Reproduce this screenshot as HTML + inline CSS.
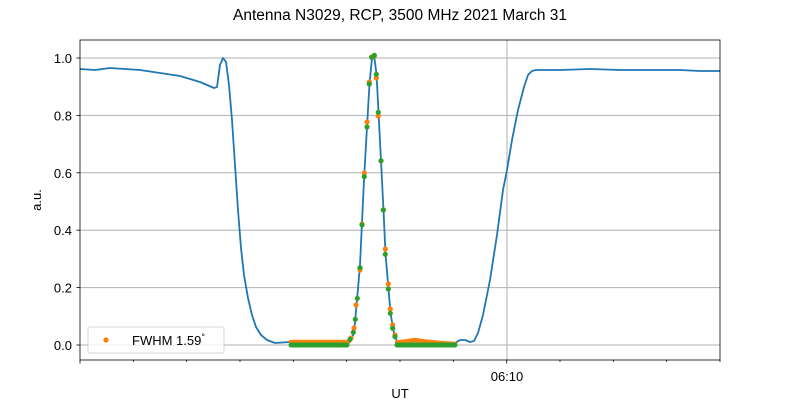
<!DOCTYPE html>
<html><head><meta charset="utf-8"><style>
body{margin:0;background:#fff}
svg text{font-family:"Liberation Sans","DejaVu Sans",sans-serif;fill:#000}
</style></head><body>
<svg width="800" height="400" viewBox="0 0 800 400" xmlns="http://www.w3.org/2000/svg">
<rect width="800" height="400" fill="#fff"/>
<text x="400" y="20" font-size="15.5" text-anchor="middle">Antenna N3029, RCP, 3500 MHz 2021 March 31</text>
<g stroke="#b0b0b0" stroke-width="1">
<line x1="80" x2="720" y1="345" y2="345"/><line x1="80" x2="720" y1="287.6" y2="287.6"/>
<line x1="80" x2="720" y1="230.2" y2="230.2"/><line x1="80" x2="720" y1="172.8" y2="172.8"/>
<line x1="80" x2="720" y1="115.4" y2="115.4"/><line x1="80" x2="720" y1="58" y2="58"/>
<line x1="507" x2="507" y1="40" y2="360"/>
</g>
<g stroke="#000" stroke-width="0.8">
<line x1="80" x2="80" y1="360" y2="363.5"/><line x1="133.3" x2="133.3" y1="360" y2="362"/><line x1="186.7" x2="186.7" y1="360" y2="362"/><line x1="240" x2="240" y1="360" y2="362"/><line x1="293.3" x2="293.3" y1="360" y2="362"/><line x1="346.7" x2="346.7" y1="360" y2="362"/><line x1="400" x2="400" y1="360" y2="362"/><line x1="453.3" x2="453.3" y1="360" y2="362"/><line x1="506.7" x2="506.7" y1="360" y2="363.5"/><line x1="560" x2="560" y1="360" y2="362"/><line x1="613.3" x2="613.3" y1="360" y2="362"/><line x1="666.7" x2="666.7" y1="360" y2="362"/><line x1="720" x2="720" y1="360" y2="362"/>
<line x1="76.5" x2="80" y1="345" y2="345"/><line x1="76.5" x2="80" y1="287.6" y2="287.6"/><line x1="76.5" x2="80" y1="230.2" y2="230.2"/><line x1="76.5" x2="80" y1="172.8" y2="172.8"/><line x1="76.5" x2="80" y1="115.4" y2="115.4"/><line x1="76.5" x2="80" y1="58" y2="58"/>
</g>
<g font-size="13" text-anchor="end">
<text x="72" y="350">0.0</text><text x="72" y="292.6">0.2</text><text x="72" y="235.2">0.4</text><text x="72" y="177.8">0.6</text><text x="72" y="120.4">0.8</text><text x="72" y="63">1.0</text>
</g>
<text x="507" y="381" font-size="13" text-anchor="middle">06:10</text>
<text x="400" y="400" font-size="13" text-anchor="middle" dy="-2">UT</text>
<text x="0" y="0" font-size="13" text-anchor="middle" transform="translate(41,200) rotate(-90)">a.u.</text>
<path fill="none" stroke="#1f77b4" stroke-width="1.8" stroke-linejoin="round" d="M80,69 L95,70 L110,68 L125,69 L140,70 L160,73 L180,76 L200,82 L214,88 L217,87 L220,65 L223,58 L226,62 L229,85 L232,120 L235,165 L238,210 L241,248 L244,275 L248,298 L252,315 L256,327 L261,335 L267,340 L275,343 L290,342 L345,344 L350,342 L354,333 L357,300 L360,265 L364,180 L367,127 L369.5,84 L372,58 L374,55 L376.5,74 L378.5,112 L381,161 L383.5,210 L385.5,254 L388.5,289 L390.5,313 L393,328 L395,337 L398,343 L405,345 L450,345 L455,343 L460,340 L465,340 L470,342 L474,341 L478,333 L483,315 L490,280 L497,235 L503,190 L507,170 L512,140 L518,110 L524,87 L528,75 L532,71 L536,70 L560,70 L590,69 L620,70 L650,70 L680,70 L700,71 L720,71"/>
<g fill="none" stroke-linecap="round">
<path stroke="#ff7f0e" stroke-width="4.5" d="M291,342 L348,342"/>
<path stroke="#ff7f0e" stroke-width="4.5" d="M397,342.5 L405,341.5 L415,340 L425,341.5 L440,343 L455,344"/>
<path stroke="#2ca02c" stroke-width="5" d="M291,345 L347,345"/>
<path stroke="#2ca02c" stroke-width="5" d="M397,345 L455,345"/>
</g>
<g fill="#ff7f0e">
<circle cx="351" cy="338" r="2.6"/><circle cx="354" cy="328" r="2.6"/><circle cx="356" cy="305" r="2.6"/><circle cx="360" cy="270" r="2.6"/><circle cx="362" cy="224" r="2.6"/><circle cx="364.3" cy="173" r="2.6"/><circle cx="367" cy="122" r="2.6"/><circle cx="369.3" cy="82" r="2.6"/><circle cx="371.7" cy="57" r="2.6"/><circle cx="374.3" cy="56" r="2.6"/><circle cx="376.3" cy="78" r="2.6"/><circle cx="378.3" cy="116" r="2.6"/><circle cx="381" cy="161" r="2.6"/><circle cx="383.3" cy="210" r="2.6"/><circle cx="385.3" cy="249" r="2.6"/><circle cx="388.3" cy="284" r="2.6"/><circle cx="390.3" cy="309" r="2.6"/><circle cx="392.7" cy="325" r="2.6"/><circle cx="395" cy="335" r="2.6"/>
</g>
<g fill="#2ca02c">
<circle cx="350" cy="339.3" r="2.6"/><circle cx="353.3" cy="332.3" r="2.6"/><circle cx="355.3" cy="319.3" r="2.6"/><circle cx="357.3" cy="298.3" r="2.6"/><circle cx="360" cy="267.7" r="2.6"/><circle cx="362" cy="225" r="2.6"/><circle cx="364.3" cy="176.7" r="2.6"/><circle cx="367" cy="127" r="2.6"/><circle cx="369.3" cy="84" r="2.6"/><circle cx="371.7" cy="57.3" r="2.6"/><circle cx="374.3" cy="55.3" r="2.6"/><circle cx="376.3" cy="74.3" r="2.6"/><circle cx="378.3" cy="112.3" r="2.6"/><circle cx="381" cy="160.7" r="2.6"/><circle cx="383.3" cy="210" r="2.6"/><circle cx="385.3" cy="254.3" r="2.6"/><circle cx="388.3" cy="289" r="2.6"/><circle cx="390.3" cy="313.3" r="2.6"/><circle cx="392.7" cy="328.3" r="2.6"/><circle cx="395" cy="336.7" r="2.6"/>
</g>
<rect x="80" y="40" width="640" height="320" fill="none" stroke="#000" stroke-width="0.8"/>
<rect x="88" y="327" width="136" height="26" rx="2" fill="#fff" fill-opacity="0.8" stroke="#ccc" stroke-width="0.8"/>
<circle cx="106" cy="340" r="2.6" fill="#ff7f0e"/>
<text x="132" y="345" font-size="13">FWHM 1.59<tspan font-size="9" dy="-5">°</tspan></text>
</svg>
</body></html>
